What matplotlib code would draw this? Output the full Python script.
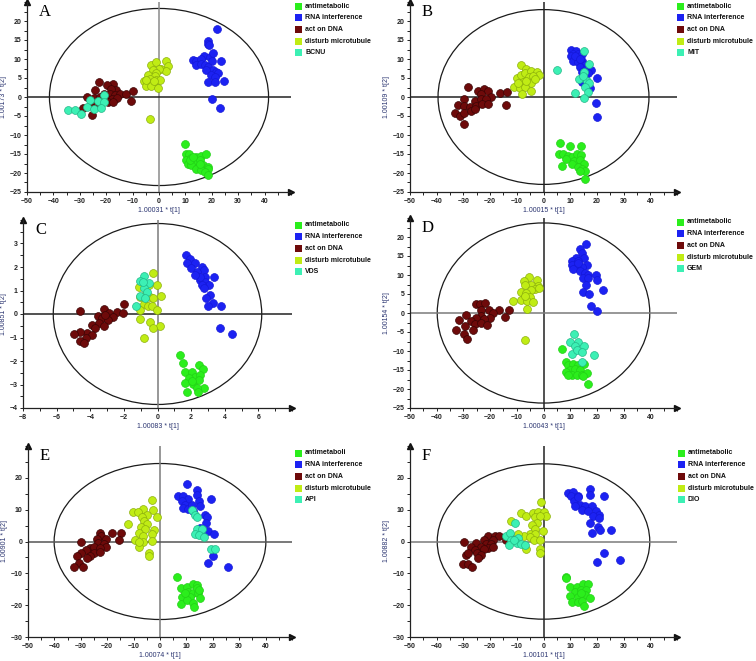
import numpy as np
import matplotlib
matplotlib.use('Agg')
import matplotlib.pyplot as plt
from matplotlib.patches import Ellipse, Rectangle
from matplotlib.ticker import MultipleLocator

# ---- class names / colours ----
groups = ['antimetabolic', 'RNA interference', 'act on DNA', 'disturb microtubule']
drugs = ['BCNU', 'MIT', 'VDS', 'GEM', 'API', 'DIO']
letters = ['A', 'B', 'C', 'D', 'E', 'F']
xlabels = ['1.00031 * t[1]', '1.00015 * t[1]', '1.00083 * t[1]', '1.00043 * t[1]', '1.00074 * t[1]', '1.00101 * t[1]']
ylabels = ['1.00173 * t[2]', '1.00109 * t[2]', '1.00851 * t[2]', '1.00154 * t[2]', '1.00901 * t[2]', '1.00882 * t[2]']
face = ['#2bee1c', '#1c22f2', '#6e0a0a', '#c0ec14', '#3cf0b4']
edge = ['#22d016', '#1418d8', '#3a0404', '#8cb00c', '#22b888']

# ---- scores (t1, t2) per panel ----
a_anti = np.array([(9.7,-12.3),(10.1,-14.9),(11.4,-15.1),(10.4,-16.5),(12.2,-16.0),(14.1,-15.8),(16.0,-15.4),(17.7,-15.1),
    (13.5,-17.1),(15.4,-16.7),(11.0,-17.5),(12.2,-18.0),(14.8,-18.4),(16.7,-18.0),(18.4,-18.4),(18.6,-18.9),(14.1,-18.9),
    (16.0,-19.3),(17.3,-19.7),(18.6,-20.4),(11.6,-16.7),(15.4,-17.5),(12.9,-15.8)])
a_rna = np.array([(22.0,17.8),(18.6,14.7),(18.6,14.0),(18.9,13.6),(16.9,10.7),(12.9,9.8),(14.1,9.6),(15.8,10.1),(19.2,10.4),
    (20.5,11.6),(20.2,9.4),(23.6,9.4),(14.1,8.3),(16.0,8.8),(17.3,8.3),(18.6,7.9),(20.5,7.2),(21.7,6.6),(22.3,6.3),(17.9,7.0),
    (19.8,5.7),(21.1,5.3),(18.6,3.9),(21.1,3.9),(24.6,4.1),(20.1,-0.5),(23.0,-2.8)])
a_dna = np.array([(-22.7,3.9),(-17.4,3.3),(-19.6,3.2),(-24.1,1.8),(-16.4,1.8),(-18.0,2.2),(-20.8,0.9),(-18.7,0.7),(-16.8,0.4),
    (-14.9,0.9),(-12.6,0.9),(-9.8,1.5),(-27.3,0.0),(-24.6,-0.2),(-22.5,0.0),(-20.2,-0.6),(-17.7,-0.6),(-15.9,-0.3),(-19.3,-1.3),
    (-17.4,-1.3),(-10.5,-1.1),(-28.8,-2.8),(-24.7,-2.2),(-25.3,-4.8),(-21.8,-0.9),(-23.7,-1.3)])
a_micro = np.array([(-2.9,8.5),(-1.3,9.2),(2.8,9.6),(3.4,8.1),(0.9,7.5),(2.5,6.8),(0.0,7.5),(-2.3,7.0),(-1.0,6.3),(-4.2,5.7),
    (-1.6,5.4),(-3.5,4.8),(-1.0,4.6),(0.5,4.4),(-5.8,4.1),(-4.2,3.7),(-2.3,3.7),(-5.1,2.8),(-2.9,2.8),(-0.4,2.5),(-3.3,-5.7),
    (-4.8,4.4),(-2.0,4.2)])
a_drug = np.array([(-34.5,-3.5),(-32.0,-3.5),(-29.4,-4.4),(-26.3,-0.9),(-27.3,-2.6),(-24.7,-3.1),(-23.1,-1.1),(-21.0,0.4),
    (-21.0,-1.3),(-21.8,-2.9)])

b_anti = np.array([(6.1,-12.2),(9.9,-12.9),(14.0,-12.9),(5.8,-14.9),(7.4,-15.1),(9.0,-15.5),(10.5,-15.9),(12.4,-15.1),(14.2,-15.2),
    (11.6,-16.8),(13.7,-16.7),(15.0,-17.5),(6.9,-18.1),(10.5,-17.7),(12.8,-18.3),(14.3,-19.0),(15.5,-19.6),(13.7,-19.6),
    (15.5,-21.5),(8.6,-16.4)])
b_rna = np.array([(10.3,12.4),(12.0,12.1),(11.1,11.4),(13.0,11.4),(10.3,10.7),(12.5,10.5),(14.3,11.2),(11.1,9.6),(13.0,9.2),
    (14.5,9.6),(15.5,8.3),(13.7,7.8),(16.0,7.4),(17.8,7.1),(14.5,6.5),(15.5,5.9),(16.8,6.3),(19.9,5.0),(14.5,3.9),(17.4,2.4),
    (19.5,-1.7),(20.1,-5.2),(11.8,10.9),(13.7,10.1)])
b_dna = np.array([(-28.3,2.7),(-24.6,1.5),(-22.4,2.1),(-20.9,1.5),(-23.4,0.8),(-19.5,-0.1),(-16.4,1.1),(-13.7,1.2),(-29.8,-0.5),
    (-25.8,-1.0),(-23.4,-0.5),(-21.4,-0.5),(-32.0,-2.1),(-29.8,-2.3),(-27.7,-2.7),(-25.2,-2.3),(-23.1,-1.8),(-20.9,-1.8),
    (-14.2,-2.1),(-33.0,-4.1),(-31.4,-4.9),(-29.8,-4.3),(-27.1,-3.6),(-25.8,-3.2),(-29.8,-7.0)])
b_micro = np.array([(-8.6,8.5),(-6.4,7.4),(-9.8,5.0),(-8.3,5.9),(-7.0,6.3),(-4.5,6.8),(-2.6,6.7),(-1.8,5.9),(-5.5,5.2),(-3.9,5.4),
    (-7.6,3.9),(-4.8,3.6),(-11.0,2.6),(-8.8,2.4),(-7.0,2.6),(-4.5,1.5),(-8.1,0.8),(-6.4,4.3),(-3.3,4.8),(-9.5,3.6)])
b_drug = np.array([(15.3,12.1),(17.2,8.7),(5.1,7.1),(15.3,6.5),(13.4,4.8),(16.2,4.3),(17.0,3.6),(15.5,2.6),(11.8,1.1),(16.5,1.2),
    (15.3,-0.3),(14.8,5.6)])

c_anti = np.array([(1.35,-1.74),(1.54,-2.09),(2.48,-2.19),(1.64,-2.48),(2.04,-2.45),(2.73,-2.33),(2.24,-2.66),(2.53,-2.59),
    (1.88,-2.73),(1.64,-2.94),(2.14,-2.98),(2.49,-2.80),(2.77,-3.13),(2.32,-3.13),(1.78,-3.32),(2.42,-3.32),(2.04,-2.87)])
c_rna = np.array([(1.70,2.50),(1.94,2.36),(2.24,2.18),(1.74,2.15),(1.98,1.97),(2.63,2.01),(2.77,1.87),(2.34,1.77),(2.83,1.58),
    (3.37,1.58),(2.53,1.44),(2.83,1.37),(3.09,1.23),(2.63,1.23),(2.77,1.12),(3.13,0.81),(2.89,0.66),(3.33,0.45),(3.03,0.35),
    (3.78,0.35),(3.72,-0.61),(4.42,-0.85),(2.53,1.58),(2.24,1.68)])
c_dna = np.array([(-1.98,0.41),(-2.38,0.10),(-2.06,0.03),(-4.59,0.13),(-3.17,0.20),(-2.91,0.03),(-2.65,-0.11),(-3.56,-0.08),
    (-3.31,-0.18),(-2.97,-0.25),(-3.90,-0.47),(-3.50,-0.40),(-3.21,-0.51),(-3.70,-0.61),(-4.20,-0.82),(-3.90,-0.89),
    (-4.63,-0.75),(-4.99,-0.86),(-4.24,-1.00),(-4.59,-1.15),(-4.36,-1.24),(-3.11,-0.04)])
c_micro = np.array([(-0.24,1.75),(-1.13,1.16),(-0.69,1.19),(-0.50,1.23),(-0.04,1.23),(-0.73,0.81),(-0.44,0.74),(0.20,0.76),
    (-0.24,0.66),(-0.83,0.41),(-0.59,0.35),(-0.34,0.35),(-1.07,0.17),(-0.04,0.17),(-1.07,-0.21),(-0.44,-0.35),(0.16,-0.50),
    (-0.28,-0.61),(-0.83,-1.03),(-1.03,0.74)])
c_drug = np.array([(-0.79,1.61),(-1.03,1.40),(-0.53,1.30),(-0.83,1.12),(-0.63,0.95),(-1.03,0.76),(-0.73,0.66),(-1.27,0.35),
    (-0.87,1.37)])

d_anti = np.array([(7.0,-9.5),(8.3,-12.9),(9.3,-13.6),(11.1,-13.3),(13.0,-13.7),(15.3,-13.5),(9.9,-15.1),(11.8,-14.8),(13.7,-15.1),
    (10.5,-16.2),(12.4,-16.4),(14.5,-16.2),(16.2,-15.7),(8.3,-15.5),(9.0,-16.4),(16.8,-18.6),(14.7,-16.5)])
d_rna = np.array([(15.8,18.1),(13.7,16.8),(14.3,15.7),(12.0,14.6),(15.3,14.4),(10.5,13.6),(13.0,13.7),(16.2,12.6),(10.5,12.6),
    (12.4,12.2),(14.3,12.0),(11.1,11.6),(13.7,11.1),(15.5,10.5),(16.8,10.0),(19.5,9.9),(14.9,9.3),(16.8,9.3),(19.9,8.7),
    (16.0,7.4),(22.1,6.1),(14.9,5.5),(17.0,4.9),(17.8,1.9),(20.2,0.4),(13.0,13.1)])
d_dna = np.array([(-25.1,2.3),(-23.6,2.3),(-21.8,2.6),(-28.9,-0.5),(-23.3,0.8),(-20.4,0.8),(-16.8,0.8),(-12.9,0.8),(-18.9,-0.1),
    (-20.2,-1.4),(-23.3,-0.7),(-25.2,-1.4),(-22.1,-1.6),(-14.3,-1.0),(-31.5,-1.8),(-27.1,-2.1),(-29.3,-3.3),(-25.5,-3.0),
    (-23.3,-2.5),(-21.1,-3.2),(-32.7,-4.5),(-26.4,-4.5),(-29.9,-5.6),(-28.7,-6.9)])
d_micro = np.array([(-5.5,9.6),(-7.3,8.5),(-2.3,8.7),(-4.5,7.4),(-7.0,7.4),(-2.0,7.2),(-3.3,6.3),(-4.8,6.0),(-1.6,6.5),(-8.3,5.6),
    (-6.4,5.2),(-5.1,4.3),(-7.3,3.9),(-8.5,3.4),(-6.0,3.2),(-3.9,2.8),(-11.4,3.2),(-6.0,1.1),(-7.0,-7.1),(-6.8,4.6)])
d_drug = np.array([(11.4,-5.4),(9.9,-7.6),(13.0,-7.6),(11.8,-8.6),(15.3,-8.7),(10.5,-10.9),(12.4,-9.8),(14.3,-10.2),(19.0,-11.1),
    (14.3,-13.0)])

e_anti = np.array([(6.3,-11.1),(7.8,-14.7),(10.1,-14.2),(12.6,-13.4),(14.1,-13.7),(10.7,-15.8),(12.6,-16.1),(14.5,-16.3),
    (8.5,-17.4),(11.3,-17.4),(15.1,-17.9),(8.0,-19.7),(10.3,-18.4),(12.6,-19.3),(12.9,-20.7),(9.5,-16.3),(13.9,-14.7),(14.9,-15.3)])
e_rna = np.array([(10.1,18.2),(14.1,16.3),(6.9,14.2),(8.8,14.2),(10.7,13.4),(14.1,14.7),(19.3,13.2),(14.9,12.6),(8.2,12.6),
    (9.5,11.6),(15.1,11.1),(8.8,10.5),(10.7,10.2),(12.6,9.5),(17.0,8.4),(17.9,7.7),(17.4,5.8),(15.1,4.2),(16.4,3.2),(18.3,3.2),
    (20.5,2.4),(20.2,-4.5),(18.3,-6.6),(25.9,-7.9),(12.0,11.6)])
e_dna = np.array([(-22.7,2.6),(-18.3,2.6),(-14.9,2.8),(-22.4,1.8),(-23.9,0.7),(-20.4,0.7),(-15.6,0.5),(-30.0,-0.3),(-23.3,-0.5),
    (-21.4,-0.7),(-20.4,-1.6),(-26.6,-2.1),(-25.1,-1.8),(-22.7,-2.1),(-28.2,-2.6),(-30.1,-3.5),(-25.1,-3.5),(-22.9,-3.2),
    (-31.3,-4.5),(-26.5,-4.5),(-27.5,-5.3),(-30.6,-6.6),(-32.5,-7.9),(-29.0,-7.9)])
e_micro = np.array([(-3.2,13.0),(-2.8,10.0),(-6.6,10.2),(-10.1,9.2),(-8.2,9.2),(-5.0,8.4),(-6.9,7.7),(-1.3,7.7),(-6.0,6.3),
    (-5.0,5.6),(-12.0,5.5),(-7.3,4.7),(-5.7,3.9),(-2.3,3.7),(-7.8,2.8),(-6.3,1.8),(-3.2,2.4),(-9.5,0.5),(-6.3,-0.3),(-3.2,0.2),
    (-7.8,-1.6),(-4.0,-3.5),(-4.0,-4.5),(-7.8,-0.3)])
e_drug = np.array([(12.0,9.8),(13.2,8.4),(14.1,7.7),(13.9,3.9),(15.8,3.9),(13.2,2.4),(14.8,2.1),(16.5,1.4),(19.5,-2.3),(20.8,-2.3)])

f_anti = np.array([(8.4,-11.1),(9.9,-14.4),(12.4,-14.2),(14.9,-13.2),(16.8,-13.2),(11.8,-15.8),(14.0,-15.3),(15.8,-15.1),
    (9.9,-17.1),(13.0,-17.4),(15.5,-16.8),(17.3,-17.9),(10.5,-18.9),(12.8,-18.9),(14.5,-18.6),(15.3,-20.3),(8.6,-11.6),(13.9,-16.3)])
f_rna = np.array([(17.4,16.5),(17.4,14.7),(22.7,14.2),(9.3,15.3),(11.1,15.5),(10.2,14.2),(12.8,14.4),(11.5,12.6),(13.7,11.6),
    (15.5,11.1),(18.0,11.3),(11.8,11.1),(14.5,10.0),(16.5,9.5),(19.5,9.5),(20.6,8.4),(18.7,7.9),(20.8,7.4),(17.4,5.8),(20.3,4.7),
    (21.2,3.5),(18.0,2.8),(25.2,3.7),(22.8,-3.7),(19.9,-6.3),(28.7,-5.8),(13.0,14.0)])
f_dna = np.array([(-20.8,1.6),(-18.3,1.8),(-16.8,1.8),(-22.1,0.5),(-18.9,0.5),(-29.6,-0.3),(-25.2,-0.5),(-21.4,-0.7),(-19.5,-0.7),
    (-27.3,-1.8),(-23.3,-1.6),(-20.6,-2.1),(-18.9,-1.8),(-25.6,-2.6),(-22.3,-2.4),(-29.0,-4.2),(-28.1,-3.7),(-24.8,-3.7),
    (-23.3,-4.2),(-24.6,-5.3),(-30.2,-7.1),(-28.3,-7.1),(-26.7,-7.9),(-12.7,1.4),(-13.9,0.5)])
f_micro = np.array([(-0.8,12.3),(-8.3,9.0),(-6.4,8.1),(-3.9,9.0),(-2.0,9.2),(0.0,9.2),(1.1,8.1),(-3.3,7.7),(-1.4,8.1),(-12.0,6.3),
    (-2.6,5.8),(-4.3,5.3),(-3.3,3.9),(-5.1,2.4),(-3.0,2.4),(-0.1,3.2),(-7.3,1.8),(-5.1,1.4),(-3.5,0.5),(-1.4,0.5),(-6.4,-2.4),
    (-1.4,-2.4),(-1.4,-3.7),(-9.5,2.4)])
f_drug = np.array([(-13.9,1.6),(-12.7,2.8),(-10.5,5.8),(-12.0,0.5),(-9.5,1.1),(-13.0,-1.1),(-9.8,-0.5),(-8.3,-0.7),(-7.0,-1.1),
    (-11.0,0.5)])

panels = [[a_anti, a_rna, a_dna, a_micro, a_drug],
          [b_anti, b_rna, b_dna, b_micro, b_drug],
          [c_anti, c_rna, c_dna, c_micro, c_drug],
          [d_anti, d_rna, d_dna, d_micro, d_drug],
          [e_anti, e_rna, e_dna, e_micro, e_drug],
          [f_anti, f_rna, f_dna, f_micro, f_drug]]

# hotelling ellipse half axes
ell_a = [41.5, 39.5, 6.2, 39.8, 40.1, 39.8]
ell_b = [23.3, 23.0, 3.85, 23.7, 24.5, 24.4]

xlims = [(-50, 50), (-50, 50), (-8, 8), (-50, 50), (-50, 50), (-50, 50)]
ylims = [(-25, 25), (-25, 25), (-4, 4), (-25, 25), (-30, 30), (-30, 30)]
xmaj = [10, 10, 2, 10, 10, 10]
ymaj = [5, 5, 1, 5, 10, 10]
xticks_max = [40, 40, 6, 40, 40, 40]

vcol = ['#8a8a8a', '#222222', '#7a7a7a', '#222222', '#7a7a7a', '#222222']
hcol = ['#222222', '#222222', '#222222', '#7a7a7a', '#555555', '#7a7a7a']

# axes boxes in pixels: left, bottom(from top), width, height
W, H = 756, 661
boxes = [(27, 192, 264, 190), (410, 192, 267, 190), (23, 408, 269, 188),
         (410, 408, 267, 190), (28, 637, 264, 191), (410, 637, 267, 191)]
leg_pos = [(295, 6), (677, 6), (295, 225), (677, 222), (295, 453), (678, 453)]

fig = plt.figure(figsize=(W / 100, H / 100), dpi=100)

for k in range(6):
    l, b, w, h = boxes[k]
    ax = fig.add_axes([l / W, (H - b) / H, w / W, h / H])
    ax.set_xlim(xlims[k])
    ax.set_ylim(ylims[k])

    ax.add_patch(Ellipse((0, 0), 2 * ell_a[k], 2 * ell_b[k], fill=False, ec='#1a1a1a', lw=0.9, zorder=1))
    ax.axvline(0, color=vcol[k], lw=1.1, zorder=1)
    ax.axhline(0, color=hcol[k], lw=1.1, zorder=1)

    for g, pts in enumerate(panels[k]):
        ax.scatter(pts[:, 0], pts[:, 1], s=32, c=face[g], edgecolors=edge[g], linewidths=0.5, zorder=3 + g)

    for sp in ['top', 'right']:
        ax.spines[sp].set_visible(False)
    for sp in ['left', 'bottom']:
        ax.spines[sp].set_color('#222222')
        ax.spines[sp].set_linewidth(0.9)
    ax.plot([0], [1], marker='^', ms=4.5, color='#111111', transform=ax.transAxes, clip_on=False)
    ax.plot([1], [0], marker='>', ms=4.5, color='#111111', transform=ax.transAxes, clip_on=False)

    ax.set_xticks(np.arange(xlims[k][0], xticks_max[k] + 0.01, xmaj[k]))
    ax.set_yticks(np.arange(ylims[k][0], ylims[k][1] - 0.01, ymaj[k]))
    ax.xaxis.set_minor_locator(MultipleLocator(xmaj[k] / 2))
    ax.yaxis.set_minor_locator(MultipleLocator(ymaj[k] / 2))
    ax.tick_params(which='both', direction='out', length=2.5, width=0.7, color='#222222',
                   labelsize=5, labelcolor='#222222', pad=1.5)
    for t in ax.get_xticklabels() + ax.get_yticklabels():
        t.set_fontweight('bold')
        t.set_family('Liberation Sans')

    ax.set_xlabel(xlabels[k], fontsize=5, color='#2a3470', family='Liberation Sans', labelpad=2)
    ax.set_ylabel(ylabels[k], fontsize=5, color='#2a3470', family='Liberation Sans', labelpad=2)

    ax.text(0.045, 0.99, letters[k], transform=ax.transAxes, ha='left', va='top',
            fontsize=12, family='Liberation Serif')

    # legend drawn as coloured squares + bold labels
    names = groups + [drugs[k]]
    if k == 4:
        names[0] = 'antimetaboli'
    lx, ly = leg_pos[k]
    for i, name in enumerate(names):
        yc = ly + i * 11.7
        fig.add_artist(Rectangle((lx / W, (H - yc - 3.5) / H), 7 / W, 7 / H,
                                 transform=fig.transFigure, color=face[i], lw=0))
        fig.text((lx + 10) / W, (H - yc) / H, name, fontsize=5, fontweight='bold',
                 family='Liberation Sans', va='center', ha='left', color='#111111')

fig.savefig('out.png', dpi=100)
